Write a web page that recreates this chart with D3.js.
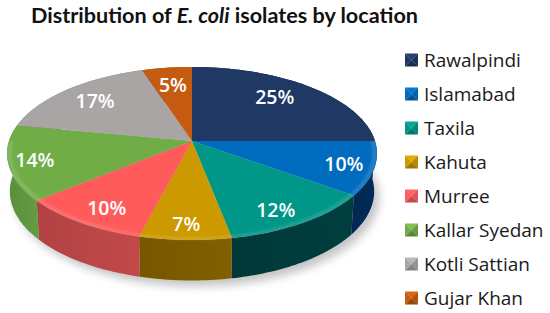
<!DOCTYPE html>
<html>
<head>
<meta charset="utf-8">
<script src="https://cdn.jsdelivr.net/npm/d3@7"></script>
<style>
html, body { margin: 0; padding: 0; background: #fff; }
svg { display: block; }
text { font-family: "Open Sans", "Noto Sans", sans-serif; }
</style>
</head>
<body>
<div id="chart"></div>
<script>
var locations = ["Rawalpindi", "Islamabad", "Taxila", "Kahuta", "Murree", "Kallar Syedan", "Kotli Sattian", "Gujar Khan"];
var shares = [25, 10, 12, 7, 10, 14, 17, 5];
var topColors = ["#1f3864", "#006cbf", "#009688", "#cc9900", "#ff5b5b", "#70ad47", "#a9a5a5", "#c55a11"];
var sideColors = ["#14264a", "#012a55", "#003b3b", "#7d5c00", "#bb4646", "#5f9640", "#7a7777", "#8a3f0c"];
// where each % label sits inside its slice
var labelRadius = [0.745, 0.84, 0.834, 0.859, 0.826, 0.859, 0.757, 0.738];
var labelTurn = [-4, 0, 3, 0, -2, 0, 0, 0];

var w = 550, h = 313;
var cx = 192, cy = 141; // apex of the tilted pie
var sx = 183, sy = 84.7, tilt = 0.1445;

var svg = d3.select("#chart").append("svg").attr("width", w).attr("height", h);
var defs = svg.append("defs");
defs.append("filter").attr("id", "soft").attr("x", "-20%").attr("y", "-20%").attr("width", "140%").attr("height", "140%")
    .append("feGaussianBlur").attr("stdDeviation", 4);
defs.append("filter").attr("id", "bevel").attr("x", "-5%").attr("y", "-5%").attr("width", "110%").attr("height", "110%")
    .append("feGaussianBlur").attr("stdDeviation", 1.1);

var slices = d3.pie().sort(null)(shares);
var line = d3.line();

// disc point (clockwise angle from top, radius 0-1) -> screen, in perspective
function project(a, r) {
    var X = Math.sin(a) * r, Y = -Math.cos(a) * r;
    var d = 1 - tilt * Y;
    return [cx + sx * X / d, cy + sy * Y / d];
}
function projectBottom(a, r) {
    var p = project(a, r);
    return [cx + (p[0] - cx) * 0.985, cy + 37.5 + (p[1] - cy) * 1.03];
}
function rim(a0, a1, r, fn) {
    var n = Math.max(2, Math.ceil((a1 - a0) / 0.02));
    return d3.range(n + 1).map(function(i) { return fn(a0 + (a1 - a0) * i / n, r); });
}

// soft shadow under the pie
svg.append("path")
    .attr("d", line(rim(0, 2 * Math.PI, 1, function(a, r) {
        var p = projectBottom(a, r);
        return [p[0] + 5, p[1] + 6];
    })) + "Z")
    .attr("fill", "#8c8c8c").attr("opacity", 0.5).attr("filter", "url(#soft)");

// side wall
slices.forEach(function(s, i) {
    var g = defs.append("linearGradient").attr("id", "side" + i);
    g.append("stop").attr("offset", "0%").attr("stop-color", d3.color(sideColors[i]).darker(0.15));
    g.append("stop").attr("offset", "100%").attr("stop-color", d3.color(sideColors[i]).brighter(0.12));
    var upper = rim(s.startAngle, s.endAngle, 1, project);
    var lower = rim(s.startAngle, s.endAngle, 1, projectBottom).reverse();
    svg.append("path")
        .attr("d", line(upper.concat(lower)) + "Z")
        .attr("fill", "url(#side" + i + ")");
});

// top surface
slices.forEach(function(s, i) {
    var pts = [[cx, cy]].concat(rim(s.startAngle, s.endAngle, 1, project));
    svg.append("path")
        .attr("d", line(pts) + "Z")
        .attr("fill", topColors[i]);
});

// light band along the front rim
slices.forEach(function(s, i) {
    var a0 = Math.max(s.startAngle, Math.PI / 2);
    var a1 = Math.min(s.endAngle, 3 * Math.PI / 2);
    if (a1 <= a0) return;
    var outer = rim(a0, a1, 1, project);
    var inner = rim(a0, a1, 0.975, project).reverse();
    svg.append("path")
        .attr("d", line(outer.concat(inner)) + "Z")
        .attr("fill", "#fff").attr("opacity", 0.13).attr("filter", "url(#bevel)");
});

// percent labels
slices.forEach(function(s, i) {
    var mid = (s.startAngle + s.endAngle) / 2 + labelTurn[i] * Math.PI / 180;
    var p = project(mid, labelRadius[i]);
    svg.append("text")
        .attr("x", p[0]).attr("y", p[1])
        .attr("dy", "0.36em")
        .attr("text-anchor", "middle")
        .attr("fill", "#fff")
        .attr("font-size", 19.5)
        .attr("font-weight", 600)
        .text(shares[i] + "%");
});

// title
var title = svg.append("text")
    .attr("x", 31).attr("y", 23)
    .style("font-family", "Lato, sans-serif")
    .attr("font-size", 21.6)
    .attr("font-weight", 700)
    .attr("fill", "#111");
title.append("tspan").text("Distribution of ");
title.append("tspan").attr("font-style", "italic").text("E. coli");
title.append("tspan").text(" isolates by location");

// legend
var legendY = d3.scalePoint().domain(locations).range([60, 298]);
var box = 13;
locations.forEach(function(name, i) {
    var y = legendY(name), x0 = 405, y0 = y - box / 2;
    var c = [x0 + box / 2, y];
    var corners = [[x0, y0], [x0 + box, y0], [x0 + box, y0 + box], [x0, y0 + box]];
    var shade = [d3.color(topColors[i]).brighter(0.3), d3.color(topColors[i]).darker(0.3),
        d3.color(topColors[i]).darker(0.7), topColors[i]];
    corners.forEach(function(p, j) {
        svg.append("path")
            .attr("d", line([p, corners[(j + 1) % 4], c]) + "Z")
            .attr("fill", shade[j]);
    });
    svg.append("text")
        .attr("x", 424).attr("y", y)
        .attr("dy", "0.36em")
        .attr("font-size", 19)
        .attr("fill", "#1a1a1a")
        .text(name);
});
</script>
</body>
</html>
